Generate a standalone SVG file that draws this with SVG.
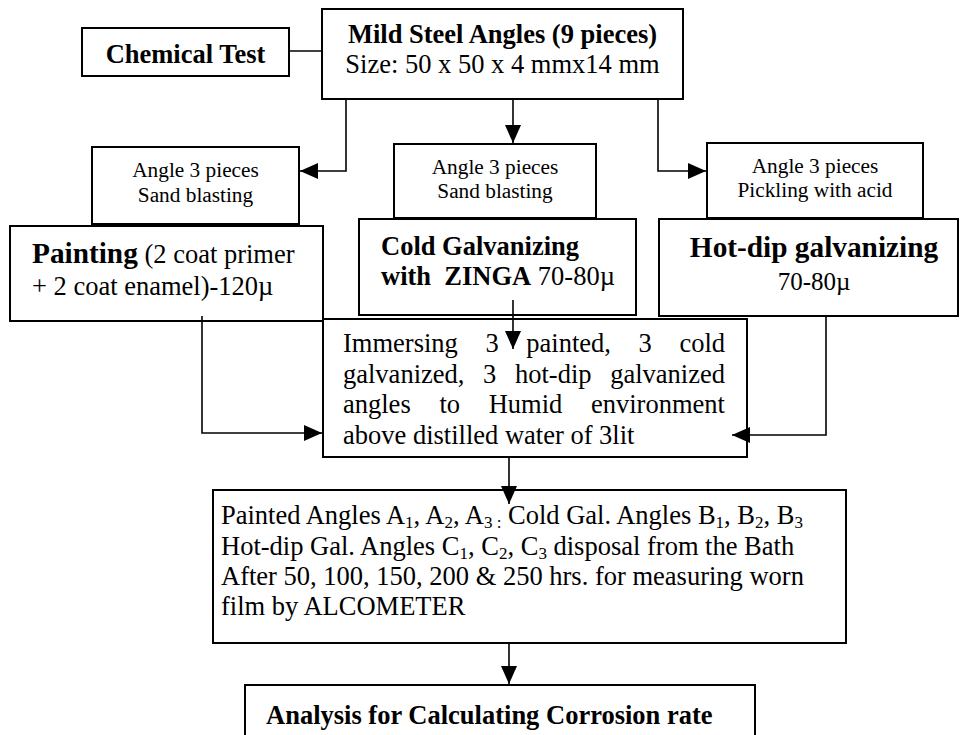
<svg xmlns="http://www.w3.org/2000/svg" width="960" height="735" viewBox="0 0 960 735">
<style>
.box{fill:#fff;stroke:#000;stroke-width:2}
.t{font-family:"Liberation Serif","Times New Roman",serif;font-size:26.5px;fill:#000}
.b{font-weight:bold}
.s{font-size:21.3px}
.c{text-anchor:middle}
.con{fill:none;stroke:#000;stroke-width:1.6}
</style>
<defs>
<marker id="ah" viewBox="0 0 18 16" refX="18" refY="8" markerWidth="18" markerHeight="16" markerUnits="userSpaceOnUse" orient="auto">
<path d="M0,0 L18,8 L0,16 Z" fill="#000"/>
</marker>
</defs>
<g id="chemical-test">
<rect class="box" x="82" y="28" width="207" height="48"/>
<text class="t b c" x="185.5" y="63">Chemical Test</text>
</g>
<g id="mild-steel">
<rect class="box" x="322" y="9" width="361" height="90"/>
<text class="t b c" x="502.5" y="43">Mild Steel Angles (9 pieces)</text>
<text class="t c" x="502.5" y="73">Size: 50 x 50 x 4 mmx14 mm</text>
</g>
<g id="sand-blasting-1">
<rect class="box" x="92" y="147" width="207" height="77"/>
<text class="t s c" x="195.5" y="177">Angle 3 pieces</text>
<text class="t s c" x="195.5" y="202">Sand blasting</text>
</g>
<g id="sand-blasting-2">
<rect class="box" x="394" y="144" width="202" height="74"/>
<text class="t s c" x="495" y="174">Angle 3 pieces</text>
<text class="t s c" x="495" y="198">Sand blasting</text>
</g>
<g id="pickling">
<rect class="box" x="707" y="143" width="216" height="75"/>
<text class="t s c" x="815" y="173">Angle 3 pieces</text>
<text class="t s c" x="815" y="197">Pickling with acid</text>
</g>
<g id="painting">
<rect class="box" x="10" y="226" width="313" height="95"/>
<text class="t" x="32" y="263"><tspan class="b" style="font-size:29.3px">Painting</tspan> (2 coat primer</text>
<text class="t" x="32" y="295">+ 2 coat enamel)-120µ</text>
</g>
<g id="cold-galvanizing">
<rect class="box" x="359" y="219" width="277" height="96"/>
<text class="t b" x="381" y="255">Cold Galvanizing</text>
<text class="t" x="381" y="285" xml:space="preserve"><tspan class="b">with  ZINGA</tspan> 70-80µ</text>
</g>
<g id="hot-dip">
<rect class="box" x="659" y="219" width="299" height="97"/>
<text class="t b c" x="814" y="257" style="font-size:29.3px">Hot-dip galvanizing</text>
<text class="t c" x="814" y="290" style="font-size:25px">70-80µ</text>
</g>
<g id="immersing">
<rect class="box" x="323" y="319" width="424" height="138"/>
<text class="t" y="352"><tspan x="343">Immersing</tspan><tspan x="485.4">3</tspan><tspan x="526.3">painted,</tspan><tspan x="638.5">3</tspan><tspan x="679.4">cold</tspan></text>
<text class="t" y="382.5"><tspan x="343">galvanized,</tspan><tspan x="483">3</tspan><tspan x="515">hot-dip</tspan><tspan x="610.2">galvanized</tspan></text>
<text class="t" y="413"><tspan x="343">angles</tspan><tspan x="439.4">to</tspan><tspan x="488.7">Humid</tspan><tspan x="591">environment</tspan></text>
<text class="t" x="343" y="443.5">above distilled water of 3lit</text>
</g>
<g id="painted-angles">
<rect class="box" x="213" y="490" width="633" height="153"/>
<text class="t" x="221" y="524">Painted Angles A<tspan font-size="17" dy="4">1</tspan><tspan dy="-4">, A</tspan><tspan font-size="17" dy="4">2</tspan><tspan dy="-4">, A</tspan><tspan font-size="17" dy="4">3 :</tspan><tspan dy="-4"> Cold Gal. Angles B</tspan><tspan font-size="17" dy="4">1</tspan><tspan dy="-4">, B</tspan><tspan font-size="17" dy="4">2</tspan><tspan dy="-4">, B</tspan><tspan font-size="17" dy="4">3</tspan></text>
<text class="t" x="221" y="554.5">Hot-dip Gal. Angles C<tspan font-size="17" dy="4">1</tspan><tspan dy="-4">, C</tspan><tspan font-size="17" dy="4">2</tspan><tspan dy="-4">, C</tspan><tspan font-size="17" dy="4">3</tspan><tspan dy="-4"> disposal from the Bath</tspan></text>
<text class="t" x="221" y="585">After 50, 100, 150, 200 &amp; 250 hrs. for measuring worn</text>
<text class="t" x="221" y="615">film by ALCOMETER</text>
</g>
<g id="analysis">
<rect class="box" x="245" y="685" width="510" height="70"/>
<text class="t b" x="266" y="724">Analysis for Calculating Corrosion rate</text>
</g>
<g id="connectors">
<line class="con" x1="289" y1="51" x2="322" y2="51"/>
<polyline class="con" points="346,99 346,171 300,171" marker-end="url(#ah)"/>
<line class="con" x1="513" y1="99" x2="513" y2="143" marker-end="url(#ah)"/>
<polyline class="con" points="658,99 658,171 706,171" marker-end="url(#ah)"/>
<line class="con" x1="513" y1="300" x2="513" y2="349" marker-end="url(#ah)"/>
<polyline class="con" points="202,316 202,433 322,433" marker-end="url(#ah)"/>
<polyline class="con" points="826,316 826,435 732,435" marker-end="url(#ah)"/>
<line class="con" x1="509" y1="457" x2="509" y2="504" marker-end="url(#ah)"/>
<line class="con" x1="509" y1="643" x2="509" y2="684" marker-end="url(#ah)"/>
</g>
</svg>
